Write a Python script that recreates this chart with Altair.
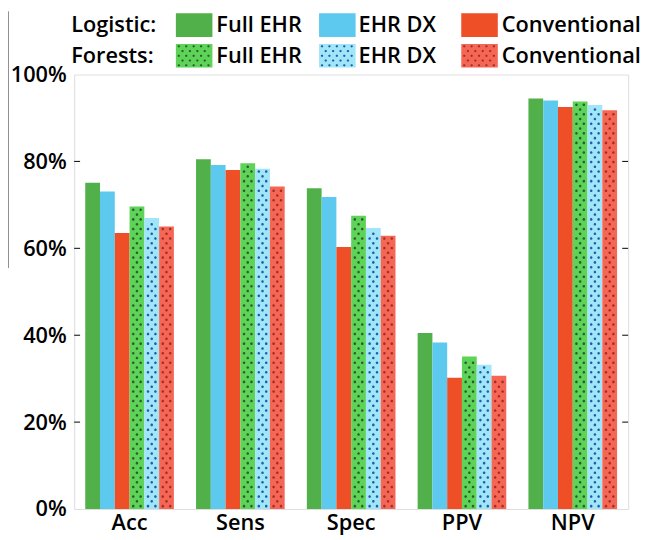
import altair as alt
import pandas as pd

metrics = ["Acc", "Sens", "Spec", "PPV", "NPV"]
series_names = [
    "Logistic Full EHR", "Logistic EHR DX", "Logistic Conventional",
    "Forests Full EHR", "Forests EHR DX", "Forests Conventional",
]
logistic_full_ehr = [75.1, 80.5, 73.8, 40.5, 94.5]
logistic_ehr_dx = [73.1, 79.2, 71.8, 38.3, 94.0]
logistic_conventional = [63.5, 78.0, 60.3, 30.2, 92.5]
forests_full_ehr = [69.6, 79.6, 67.5, 35.1, 93.8]
forests_ehr_dx = [67.0, 78.3, 64.7, 33.2, 93.0]
forests_conventional = [65.0, 74.2, 62.9, 30.7, 91.8]
y_ticks = [0, 20, 40, 60, 80, 100]

all_vals = [logistic_full_ehr, logistic_ehr_dx, logistic_conventional,
            forests_full_ehr, forests_ehr_dx, forests_conventional]

bar_colors = ["#52b04a", "#5dc9ee", "#ef4f27", "#5dd458", "#a0e5f8", "#f56655"]
dot_colors = ["#2e5c2e", "#1c5fa8", "#a22f27"]

rows = []
for s, vals in zip(series_names, all_vals):
    for m, v in zip(metrics, vals):
        rows.append({"metric": m, "series": s, "value": v})
df = pd.DataFrame(rows)


def circle(cx, cy, r):
    return (f"M{cx - r:.3f},{cy:.3f}a{r:.3f},{r:.3f} 0 1,0 {2 * r:.3f},0"
            f"a{r:.3f},{r:.3f} 0 1,0 {-2 * r:.3f},0Z")


# texture symbols: a 15px-wide box -> 1 unit = 7.5 px
R_BAR = 1.3 / 7.5
path_side = circle(-0.5, 0, R_BAR) + circle(0.5, 0, R_BAR)
path_mid = circle(0, 0, R_BAR)

# dot texture rows for the forest bars (derived from bar heights)
ROW_STEP = 1.1
dot_rows = []
for s, vals in zip(series_names[3:], all_vals[3:]):
    for m, v in zip(metrics, vals):
        k = 0
        while ROW_STEP * (k + 0.6) < v - 0.4:
            dot_rows.append({"metric": m, "series": s, "y": ROW_STEP * (k + 0.6),
                             "pos": "side" if k % 2 == 0 else "mid"})
            k += 1
dots_df = pd.DataFrame(dot_rows)

W, H = 561, 440
FONT = "Open Sans"

x_axis = alt.Axis(title=None, labelAngle=0, ticks=False, domain=False,
                  labelFontSize=22, labelFont=FONT, labelFontWeight=600,
                  labelColor="black", labelPadding=4)
y_axis = alt.Axis(title=None, values=y_ticks, labelExpr="datum.value + '%'",
                  ticks=False, domain=False, grid=False,
                  labelFontSize=22, labelFont=FONT, labelFontWeight=600,
                  labelColor="black", labelPadding=8)
x_enc = alt.X("metric:N", sort=metrics,
              scale=alt.Scale(paddingInner=0.2, paddingOuter=0.1), axis=x_axis)
xoff = alt.XOffset("series:N", sort=series_names,
                   scale=alt.Scale(domain=series_names, paddingInner=0, paddingOuter=0))
y_scale = alt.Scale(domain=[0, 100], nice=False)

bars = alt.Chart(df).mark_bar().encode(
    x=x_enc,
    xOffset=xoff,
    y=alt.Y("value:Q", scale=y_scale, axis=y_axis),
    color=alt.Color("series:N", scale=alt.Scale(domain=series_names, range=bar_colors),
                    legend=None),
)

dots = alt.Chart(dots_df).mark_point(filled=True, opacity=1, size=225, strokeWidth=0).encode(
    x=x_enc,
    xOffset=xoff,
    y=alt.Y("y:Q", scale=y_scale, axis=y_axis),
    shape=alt.Shape("pos:N", scale=alt.Scale(domain=["side", "mid"],
                                             range=[path_side, path_mid]), legend=None),
    color=alt.Color("series:N",
                    scale=alt.Scale(domain=series_names[3:], range=dot_colors),
                    legend=None),
)

tick_df = pd.DataFrame({"t": y_ticks[1:-1]})
ticks_left = alt.Chart(tick_df).mark_rule(color="black", strokeWidth=1).encode(
    y=alt.Y("t:Q", scale=y_scale, axis=y_axis), x=alt.value(0), x2=alt.value(6))
ticks_right = alt.Chart(tick_df).mark_rule(color="black", strokeWidth=1).encode(
    y=alt.Y("t:Q", scale=y_scale, axis=y_axis), x=alt.value(W - 6), x2=alt.value(W))

one = pd.DataFrame({"a": [0]})
edge_line = alt.Chart(one).mark_rule(color="#222", strokeWidth=1).encode(
    x=alt.value(-67), y=alt.value(-64), y2=alt.value(196))

# legend
legend_layers = []
row_y = [-50, -19]
row_labels = ["Logistic:", "Forests:"]
sw_x = [103, 248, 392]
SW_W, SW_H = 37, 24
txt_x = [144, 288, 433]
entry_labels = ["Full EHR", "EHR DX", "Conventional"]

# swatch dot pattern: box of 37px -> 1 unit = 18.5 px
u = SW_W / 2
leg_path = ""
k = 0
py = -SW_H / 2 + 2.5
while py < SW_H / 2 - 1:
    xs = [-SW_W / 2 + 3 + 7.5 * i for i in range(5)] if k % 2 == 0 else \
         [-SW_W / 2 + 6.75 + 7.5 * i for i in range(4)]
    for px in xs:
        leg_path += circle(px / u, py / u, 1.2 / u)
    py += 4.8
    k += 1

for r in range(2):
    legend_layers.append(alt.Chart(one).mark_text(
        text=row_labels[r], align="left", baseline="middle", fontSize=22,
        font=FONT, fontWeight=600, color="black").encode(
        x=alt.value(-3), y=alt.value(row_y[r])))
    for c in range(3):
        legend_layers.append(alt.Chart(one).mark_rect(
            color=bar_colors[r * 3 + c]).encode(
            x=alt.value(sw_x[c]), x2=alt.value(sw_x[c] + SW_W),
            y=alt.value(row_y[r] - SW_H / 2), y2=alt.value(row_y[r] + SW_H / 2)))
        if r == 1:
            legend_layers.append(alt.Chart(one).mark_point(
                shape=leg_path, filled=True, opacity=1, strokeWidth=0,
                size=SW_W * SW_W, color=dot_colors[c]).encode(
                x=alt.value(sw_x[c] + SW_W / 2), y=alt.value(row_y[r])))
        legend_layers.append(alt.Chart(one).mark_text(
            text=entry_labels[c], align="left", baseline="middle", fontSize=22,
            font=FONT, fontWeight=600, color="black").encode(
            x=alt.value(txt_x[c]), y=alt.value(row_y[r])))

chart = alt.layer(
    bars, dots, ticks_left, ticks_right, edge_line, *legend_layers
).resolve_scale(color="independent").properties(
    width=W, height=H,
    autosize=alt.AutoSizeParams(type="none"),
    padding={"left": 67, "top": 64, "right": 12, "bottom": 27},
).configure_view(stroke="#333", strokeWidth=1.5).configure(background="white")

chart.save("out.html", embed_options={"renderer": "svg", "actions": False})
